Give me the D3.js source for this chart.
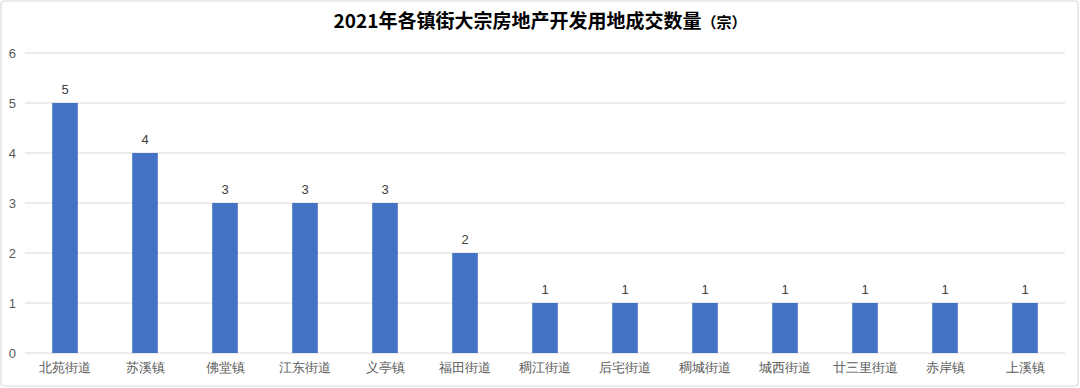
<!DOCTYPE html>
<html><head><meta charset="utf-8">
<script src="https://cdn.jsdelivr.net/npm/d3@7"></script>
<style>
html,body{margin:0;padding:0;background:#fff;}
svg{display:block;font-family:"Noto Sans CJK SC","Liberation Sans",Arial,sans-serif;}
</style></head>
<body><svg id="c" width="1080" height="388"></svg>
<script>
const title = "2021年各镇街大宗房地产开发用地成交数量";
const titleUnit = "（宗）";
const categories = ["北苑街道","苏溪镇","佛堂镇","江东街道","义亭镇","福田街道","稠江街道","后宅街道","稠城街道","城西街道","廿三里街道","赤岸镇","上溪镇"];
const values = [5,4,3,3,3,2,1,1,1,1,1,1,1];
const yTicks = [0,1,2,3,4,5,6];

const svg = d3.select("#c");
const W = 1080, H = 388;
const m = {left:25, right:15, top:53, bottom:35};

svg.append("rect").attr("x",1).attr("y",1).attr("width",W-3).attr("height",H-3)
  .attr("rx",3).attr("fill","#fff").attr("stroke","#d9d9d9").attr("stroke-width",1.2);

const x = d3.scaleBand().domain(categories).range([m.left, W-m.right]).paddingInner(0.68).paddingOuter(0.34);
const y = d3.scaleLinear().domain([0,6]).range([H-m.bottom, m.top]);

// grid
svg.append("g").selectAll("line").data(yTicks).join("line")
  .attr("x1",m.left).attr("x2",W-m.right)
  .attr("y1",d=>y(d)).attr("y2",d=>y(d))
  .attr("stroke","#d9d9d9").attr("stroke-width",1);

// y axis
const ya = svg.append("g").attr("transform",`translate(${m.left},0)`)
  .call(d3.axisLeft(y).tickValues(yTicks).tickFormat(d3.format("d")).tickSize(0).tickPadding(9));
ya.select(".domain").remove();
ya.selectAll("text").attr("font-size",13).attr("fill","#595959").attr("font-family","Liberation Sans, Arial, sans-serif");

// x axis
const xa = svg.append("g").attr("transform",`translate(0,${y(0)})`)
  .call(d3.axisBottom(x).tickSize(0).tickPadding(10));
xa.select(".domain").remove();
xa.selectAll("text").attr("font-size",13).attr("fill","#595959");

// bars
svg.append("g").selectAll("rect").data(values).join("rect")
  .attr("x",(d,i)=>x(categories[i])).attr("width",x.bandwidth())
  .attr("y",d=>y(d)).attr("height",d=>y(0)-y(d))
  .attr("fill","#4472c4");

// labels
svg.append("g").selectAll("text").data(values).join("text")
  .attr("x",(d,i)=>x(categories[i])+x.bandwidth()/2).attr("y",d=>y(d)-9)
  .attr("text-anchor","middle").attr("font-size",13).attr("fill","#404040")
  .attr("font-family","Liberation Sans, Arial, sans-serif")
  .text(d=>d);

// title
const t = svg.append("text").attr("x",W/2).attr("y",28).attr("text-anchor","middle")
  .attr("font-weight","bold").attr("fill","#000");
t.append("tspan").attr("font-size",19).text(title);
t.append("tspan").attr("font-size",15).text(titleUnit);
</script></body></html>
